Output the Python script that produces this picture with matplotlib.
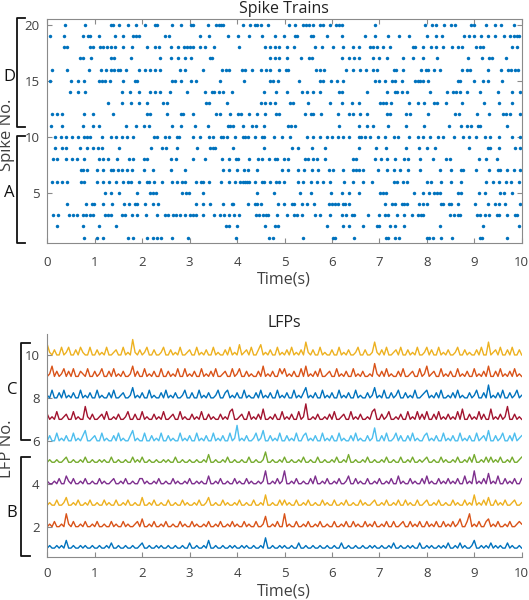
import numpy as np
import matplotlib
matplotlib.use('Agg')
import matplotlib.pyplot as plt
from matplotlib.lines import Line2D

plt.rcParams['font.family'] = ['Open Sans', 'DejaVu Sans']

# spike times (s) for each spike train
spk01 = [0.78, 1.04, 1.18, 1.71, 1.80, 2.10, 2.22, 2.32, 2.39, 2.62, 2.97, 3.98, 4.68, 4.75, 5.38, 6.03, 6.07, 6.47,
         7.14, 7.19, 7.33, 7.42, 8.00, 8.05, 8.13, 8.29, 8.53, 9.12, 9.17, 9.70]
spk02 = [0.20, 0.76, 1.08, 1.45, 3.77, 3.84, 3.99, 4.59, 4.79, 4.87, 5.89, 6.24, 6.35, 6.66, 6.96, 7.00, 7.23, 7.33,
         7.51, 8.27, 9.18, 9.95]
spk03 = [0.11, 0.23, 0.46, 0.55, 0.62, 0.75, 0.82, 0.90, 0.96, 1.22, 1.29, 1.34, 1.57, 1.64, 1.78, 1.90, 2.08, 2.32,
         2.48, 2.55, 2.64, 2.71, 2.80, 2.90, 3.01, 3.08, 3.14, 3.29, 3.52, 3.63, 3.73, 3.84, 3.94, 4.05, 4.40, 4.47,
         4.54, 4.61, 4.65, 4.84, 5.05, 5.20, 5.27, 5.36, 5.64, 5.74, 5.96, 6.21, 6.30, 6.42, 6.47, 6.75, 7.00, 7.12,
         7.19, 7.37, 7.52, 7.68, 7.82, 7.87, 7.93, 8.49, 8.58, 8.65, 8.69, 9.05, 9.12, 9.23, 9.32, 9.47, 9.53, 9.69,
         9.86, 9.91]
spk04 = [0.42, 0.82, 0.94, 0.99, 1.18, 1.36, 1.62, 1.73, 1.85, 1.90, 2.06, 2.22, 2.34, 3.14, 3.29, 3.43, 3.70, 3.89,
         3.92, 4.24, 4.37, 4.41, 4.50, 4.87, 4.99, 5.15, 5.20, 5.36, 5.47, 5.62, 5.93, 6.00, 6.07, 6.12, 6.23, 6.28,
         6.37, 7.12, 7.26, 7.33, 7.47, 7.52, 7.59, 7.84, 7.91, 8.01, 8.29, 8.35, 8.46, 8.51, 8.65, 9.02, 9.28, 9.44,
         9.53, 9.65, 9.97]
spk05 = [1.22, 1.34, 1.51, 1.90, 2.17, 2.22, 2.29, 2.83, 2.92, 2.99, 3.28, 4.41, 4.78, 5.33, 5.56, 5.97, 6.21, 6.35,
         6.57, 7.01, 7.07, 7.14, 7.72, 7.91, 8.05, 8.16, 8.21, 8.27, 8.65, 8.72, 9.11, 9.23, 9.54, 9.63, 9.79]
spk06 = [0.09, 0.21, 0.30, 0.41, 0.70, 0.77, 1.04, 1.17, 1.31, 1.45, 1.59, 1.71, 1.76, 1.94, 2.10, 2.15, 2.24, 2.41,
         2.62, 2.73, 2.83, 2.90, 3.14, 3.23, 3.28, 3.40, 3.66, 3.84, 3.96, 4.06, 4.12, 4.17, 4.22, 4.26, 4.38, 4.52,
         4.57, 4.70, 4.82, 4.89, 4.99, 5.29, 5.40, 5.55, 5.68, 5.81, 5.95, 6.26, 6.45, 6.66, 6.84, 7.30, 7.37, 7.49,
         7.58, 8.01, 8.08, 8.29, 8.51, 8.72, 9.25, 9.39, 9.53, 9.67, 9.77, 9.95]
spk07 = [0.70, 0.76, 0.83, 1.04, 1.18, 1.34, 1.39, 1.48, 1.57, 1.67, 1.78, 2.03, 2.22, 2.61, 2.90, 3.71, 3.83, 3.99,
         4.15, 4.24, 4.43, 4.94, 5.08, 5.29, 5.41, 5.57, 5.71, 5.93, 6.03, 6.24, 6.44, 6.51, 6.56, 6.66, 6.97, 7.16,
         7.30, 7.44, 7.61, 7.86, 8.27, 8.51, 8.72, 8.77, 9.04, 9.32, 9.49, 9.54, 9.70, 9.83, 9.97]
spk08 = [0.13, 0.21, 0.39, 0.53, 0.62, 0.77, 1.08, 1.18, 1.27, 1.46, 1.73, 1.80, 2.03, 2.10, 2.61, 2.71, 3.07, 3.33,
         3.68, 3.84, 3.98, 4.03, 4.26, 4.45, 4.52, 4.68, 4.80, 4.85, 4.98, 5.08, 5.43, 5.50, 5.61, 5.69, 5.86, 6.44,
         6.51, 6.91, 7.03, 7.16, 7.33, 7.51, 7.61, 7.86, 8.14, 8.40, 8.48, 9.11, 9.25, 9.47]
spk09 = [0.16, 0.30, 0.39, 0.68, 0.83, 0.96, 1.06, 1.16, 1.52, 2.19, 2.41, 2.50, 2.73, 3.15, 3.43, 3.49, 3.54, 3.91,
         4.57, 5.15, 5.29, 5.57, 5.86, 6.58, 6.93, 7.14, 7.56, 7.84, 8.00, 8.18, 8.88, 9.28, 9.33, 9.52, 9.86, 9.97]
spk10 = [0.16, 0.28, 0.39, 0.53, 0.64, 0.78, 0.83, 0.89, 1.15, 1.34, 1.45, 1.57, 1.69, 1.81, 2.25, 2.32, 2.48, 2.57,
         2.73, 2.78, 3.07, 3.21, 3.40, 3.49, 3.66, 3.71, 3.78, 3.96, 4.12, 4.17, 4.24, 4.38, 4.52, 4.57, 4.78, 4.94,
         5.12, 5.47, 5.61, 5.74, 5.89, 6.00, 6.12, 6.24, 6.35, 6.56, 6.61, 6.70, 6.80, 6.97, 7.12, 7.30, 7.40, 7.63,
         7.82, 7.93, 8.07, 8.24, 8.34, 8.58, 8.77, 8.89, 9.04, 9.23, 9.33, 9.53, 9.79, 9.97]
spk11 = [0.07, 0.30, 0.76, 0.96, 1.10, 1.66, 1.86, 2.03, 2.15, 2.62, 2.81, 3.11, 3.38, 3.80, 3.85, 3.91, 4.12, 4.31,
         4.40, 4.56, 5.08, 5.14, 5.22, 6.14, 6.56, 6.73, 6.87, 7.19, 7.56, 7.94, 8.46, 8.72, 8.84, 8.93, 9.07, 9.12,
         9.70]
spk12 = [0.09, 0.21, 0.30, 0.78, 0.96, 1.38, 2.11, 2.17, 2.52, 2.81, 2.87, 3.08, 3.56, 3.63, 3.85, 4.03, 4.08, 4.26,
         4.41, 4.59, 4.82, 4.89, 5.43, 5.55, 5.60, 5.76, 6.12, 6.36, 6.44, 6.59, 6.73, 7.16, 7.23, 7.56, 7.65, 8.02,
         8.60, 8.67, 9.05, 9.32, 9.60, 9.67, 9.76, 9.97]
spk13 = [1.29, 1.57, 1.77, 1.93, 2.10, 2.43, 2.52, 3.35, 3.40, 3.78, 4.51, 4.59, 4.70, 4.80, 5.12, 5.17, 5.50, 5.96,
         6.21, 6.42, 6.57, 7.01, 7.07, 7.14, 7.25, 7.63, 7.82, 7.94, 8.16, 8.21, 8.40, 8.75, 9.21, 9.53, 9.79]
spk14 = [0.48, 0.65, 0.80, 1.57, 1.74, 1.94, 2.17, 2.27, 2.38, 2.59, 2.94, 3.33, 3.47, 3.51, 3.61, 3.70, 3.89, 4.56,
         4.82, 5.06, 5.36, 5.47, 5.61, 5.75, 6.14, 6.21, 6.73, 7.17, 7.33, 7.38, 7.47, 7.58, 8.07, 8.42, 8.56, 8.62,
         8.69, 8.84, 9.12, 9.49, 9.79, 9.97]
spk15 = [0.06, 0.49, 0.65, 0.78, 1.08, 1.15, 1.22, 1.32, 1.59, 1.84, 1.90, 2.62, 2.69, 2.81, 3.03, 3.13, 3.63, 4.15,
         4.70, 4.75, 4.86, 5.31, 5.75, 5.81, 5.98, 6.10, 6.24, 6.90, 7.00, 7.12, 7.26, 7.33, 7.47, 7.75, 7.81, 7.86,
         7.91, 8.02, 8.65, 8.70, 9.00, 9.19, 9.30, 9.58]
spk16 = [0.09, 0.41, 0.87, 1.13, 1.23, 1.34, 1.41, 1.48, 1.53, 1.66, 1.94, 2.06, 2.17, 2.27, 2.38, 2.80, 2.90, 3.28,
         3.68, 3.77, 3.82, 4.10, 4.17, 4.31, 4.51, 4.61, 4.70, 4.89, 5.03, 5.08, 5.67, 5.75, 5.84, 6.29, 6.44, 6.59,
         6.72, 6.86, 6.96, 7.30, 7.35, 7.49, 7.88, 7.98, 8.03, 8.16, 8.28, 8.74, 8.84, 8.91, 9.28, 9.56, 9.72, 9.78,
         9.86, 9.93]
spk17 = [0.69, 0.75, 0.92, 1.34, 1.41, 1.77, 2.38, 2.61, 2.76, 2.90, 3.03, 3.42, 3.48, 4.70, 4.80, 4.89, 5.06, 5.35,
         5.52, 5.57, 6.21, 6.35, 6.47, 6.58, 6.86, 7.00, 7.17, 7.49, 7.70, 7.91, 8.22, 8.86, 9.16, 9.32, 9.37, 9.67]
spk18 = [0.35, 0.42, 0.89, 0.97, 1.11, 1.18, 1.25, 1.34, 1.43, 1.60, 1.78, 2.10, 2.27, 2.36, 2.61, 2.76, 2.89, 2.94,
         3.01, 3.08, 3.21, 3.33, 3.52, 4.05, 4.59, 4.70, 4.80, 4.89, 5.06, 5.19, 5.64, 5.78, 6.02, 6.24, 6.44, 6.58,
         6.80, 6.87, 6.94, 7.07, 7.23, 7.70, 7.75, 7.91, 8.09, 8.20, 8.35, 8.54, 8.65, 8.74, 9.04, 9.12, 9.18, 9.79,
         9.91]
spk19 = [0.06, 0.36, 0.76, 0.85, 0.90, 1.08, 1.43, 1.60, 1.80, 1.87, 1.93, 2.48, 2.57, 3.22, 3.40, 3.80, 4.03, 4.25,
         4.53, 4.79, 4.99, 5.22, 5.27, 5.56, 5.61, 5.89, 6.21, 6.70, 6.91, 7.19, 7.42, 7.63, 8.00, 8.20, 8.33, 8.79,
         8.89, 9.00, 9.14, 9.28, 9.44, 9.63, 9.76, 9.83, 9.90, 9.95]
spk20 = [0.37, 0.80, 1.34, 1.39, 1.51, 1.71, 1.88, 2.05, 2.26, 2.31, 2.62, 2.81, 3.03, 3.08, 3.38, 3.55, 3.61, 3.66,
         3.71, 4.13, 4.27, 4.37, 4.43, 4.51, 4.66, 5.10, 5.22, 5.40, 5.45, 5.52, 5.61, 5.75, 5.81, 5.96, 6.09, 6.15,
         6.21, 6.91, 7.96, 8.10, 8.20, 8.37, 8.50, 8.60, 8.93, 9.00, 9.25, 9.43, 9.56, 9.83]

# LFP traces, sampled every 0.05 s, height above baseline (arbitrary steps)
lfp_dt = 0.05
lfp_step = 0.12
lfp01 = [1,2,1,1,2,1,2,1,4,1, 1,2,1,1,2,1,2,1,1,2, 1,1,2,1,1,2,1,3,1,1, 2,1,1,2,1,1,2,1,1,2,
         3,1,1,2,1,1,2,1,2,1, 1,2,1,1,2,1,1,2,1,1, 3,1,1,2,1,1,2,1,4,1, 1,2,1,1,2,1,1,2,1,2,
         1,1,2,1,2,1,1,2,1,1, 2,1,5,1,1,2,1,1,2,1, 2,1,1,2,1,1,3,1,1,2, 1,1,2,1,1,2,1,1,2,1,
         1,2,1,1,3,1,1,2,1,1, 2,1,1,2,1,1,2,1,2,1, 1,2,1,1,2,1,3,1,1,2, 1,1,2,1,2,1,1,3,1,1,
         2,1,2,1,1,2,1,2,1,3, 1,1,2,1,3,1,2,1,1,2, 4,1,1,2,1,2,1,3,1,2, 1,2,1,1,3,1,2,1,1,2, 1]
lfp02 = [1,2,1,3,1,1,2,1,6,2, 1,3,1,1,2,1,3,1,1,2, 1,3,1,1,2,1,1,3,1,2, 1,1,3,1,2,1,1,2,3,1,
         4,1,1,2,1,3,1,1,2,1, 3,1,1,2,1,1,3,1,2,1, 1,3,1,2,1,1,2,1,3,1, 1,2,1,3,1,1,2,1,3,1,
         2,1,1,3,1,2,1,1,3,1, 1,2,5,1,1,2,1,3,1,1, 6,1,2,1,1,3,1,1,2,1, 3,1,1,2,1,3,1,1,2,1,
         1,3,1,1,2,1,3,1,1,3, 1,2,1,1,3,1,2,1,3,1, 1,2,1,3,1,1,3,1,1,2, 3,1,1,3,1,2,1,3,1,1,
         3,1,2,1,3,1,1,3,1,2, 1,3,1,2,4,1,1,3,6,1, 2,1,3,1,1,3,4,1,2,1, 3,1,1,2,1,3,1,1,2,3, 2]
lfp03 = [1,2,1,1,3,1,1,2,4,1, 1,2,1,3,1,1,2,1,3,1, 1,2,1,1,3,1,2,1,1,3, 1,1,2,1,3,1,1,2,1,1,
         4,1,1,2,1,3,1,1,2,1, 1,3,1,1,2,1,1,3,1,2, 1,1,2,1,3,1,1,2,4,1, 1,2,1,1,3,1,2,1,1,2,
         1,3,1,1,2,1,1,3,1,1, 2,1,5,1,1,2,1,1,3,1, 3,1,2,1,1,3,1,1,2,1, 3,1,1,2,1,1,3,1,2,1,
         1,3,1,1,2,1,3,1,1,2, 1,1,3,1,2,1,1,2,3,1, 1,2,1,3,1,1,2,1,3,1, 1,3,1,2,1,1,3,1,1,2,
         3,1,1,2,1,3,1,1,2,1, 1,3,1,2,1,1,3,1,2,1, 5,1,2,1,3,1,4,1,1,3, 1,2,1,3,1,1,2,3,1,1, 2]
lfp04 = [2,1,1,2,1,3,1,1,4,2, 1,3,1,1,2,1,3,1,1,2, 1,1,3,1,2,1,1,2,3,1, 1,2,1,3,1,1,2,1,1,3,
         3,1,2,1,1,2,1,3,1,1, 2,1,1,3,1,2,1,1,2,1, 3,1,1,2,1,2,1,1,4,1, 1,2,1,3,1,1,2,1,1,3,
         1,2,1,1,3,1,2,1,1,2, 1,2,6,1,1,2,1,3,1,2, 6,1,1,2,1,3,1,1,2,1, 1,3,1,4,1,1,2,1,3,1,
         1,2,1,3,1,1,2,4,1,1, 3,1,2,1,1,3,1,1,2,1, 3,1,1,2,1,3,1,1,4,1, 2,1,1,3,1,2,1,1,3,1,
         4,1,2,1,1,3,1,2,1,3, 1,2,1,3,1,1,4,1,2,1, 6,1,2,1,3,1,5,1,2,1, 4,1,1,3,1,2,1,3,1,1, 3]
lfp05 = [1,2,1,1,2,1,1,2,3,1, 1,2,1,1,2,1,3,1,1,2, 1,1,2,1,2,1,1,3,1,1, 2,1,1,2,1,1,3,1,2,1,
         3,1,1,2,1,1,2,1,1,2, 1,2,1,1,3,1,1,2,1,1, 2,1,1,2,1,1,2,1,4,1, 1,2,1,1,2,1,3,1,1,2,
         1,1,2,1,1,3,1,1,2,1, 1,2,5,1,1,2,1,1,2,1, 3,1,1,2,1,1,2,1,3,1, 1,2,1,1,3,1,1,2,1,1,
         2,1,3,1,1,2,1,4,1,1, 2,1,1,2,1,3,1,1,2,1, 1,2,1,3,1,1,2,1,1,3, 1,1,2,1,3,1,1,2,1,2,
         3,1,1,2,1,1,3,1,2,1, 1,2,1,3,1,1,2,1,3,1, 4,1,1,2,1,3,1,3,1,2, 1,3,1,1,2,1,3,1,1,2, 3]
lfp06 = [1,3,1,1,4,1,2,1,3,1, 1,4,1,2,1,3,5,1,1,2, 3,1,1,4,1,2,1,1,3,1, 4,1,2,1,1,3,5,1,2,1,
         1,4,1,1,3,1,2,1,4,1, 1,3,1,2,1,1,4,1,2,1, 3,1,1,4,1,2,1,3,1,1, 4,1,2,1,3,1,1,4,1,2,
         7,1,2,1,3,1,1,2,4,1, 2,5,1,1,3,1,2,1,4,1, 1,3,1,2,1,4,1,1,3,4, 1,2,1,3,1,1,4,1,2,1,
         3,1,1,4,1,2,1,1,3,1, 4,1,2,1,1,3,1,2,6,1, 1,3,1,4,1,1,2,4,1,3, 1,1,3,1,4,1,2,1,1,3,
         4,1,2,1,3,1,1,4,1,2, 1,3,1,1,4,1,2,1,3,1, 1,4,1,2,3,1,5,1,1,3, 1,2,4,1,1,3,1,4,1,2, 3]
lfp07 = [3,1,2,1,4,1,1,2,3,1, 1,4,1,2,1,1,6,2,1,3, 1,1,2,3,1,4,1,1,2,1, 3,1,1,2,4,1,1,3,1,1,
         4,1,2,1,1,3,1,2,1,4, 1,1,2,3,1,1,4,1,2,1, 1,3,1,2,1,4,1,1,3,1, 2,1,1,3,1,2,1,4,5,1,
         1,2,3,1,1,4,1,2,1,3, 1,5,1,1,2,1,3,1,1,4, 1,2,1,3,1,1,4,1,2,7, 1,1,2,1,3,1,1,2,1,3,
         1,4,1,1,2,3,1,1,4,1, 2,1,3,1,1,2,1,4,5,1, 1,3,1,2,4,1,1,2,1,3, 1,1,4,1,2,1,4,1,3,1,
         4,1,1,3,1,4,1,2,1,3, 1,2,1,4,1,5,1,1,3,1, 2,1,4,1,3,1,1,5,1,2, 1,3,1,2,6,1,1,3,1,2, 1]
lfp08 = [2,1,4,1,1,3,1,4,1,2, 1,3,1,1,4,1,2,1,3,1, 1,4,1,2,1,1,3,1,4,1, 1,2,3,1,1,2,5,1,2,1,
         3,1,1,4,1,2,1,1,3,1, 4,1,2,1,3,1,1,2,4,1, 1,3,1,1,4,1,2,1,3,1, 1,2,4,1,1,3,4,1,2,1,
         3,1,1,4,1,2,1,1,3,1, 4,1,2,1,3,1,1,4,1,2, 1,3,1,1,4,1,2,1,3,5, 1,2,1,3,1,1,4,1,2,1,
         3,1,1,4,1,2,1,3,1,1, 4,1,2,1,1,3,1,2,5,1, 2,1,4,1,1,3,1,2,4,1, 1,3,1,2,1,4,1,1,2,3,
         4,1,2,1,3,1,4,1,1,2, 1,3,1,4,1,2,1,1,3,1, 2,4,1,1,3,1,6,1,2,1, 3,1,4,1,1,3,1,2,4,1, 2]
lfp09 = [1,2,5,1,3,1,2,4,1,3, 1,4,1,1,3,2,1,4,1,1, 3,1,2,4,1,1,3,1,4,1, 2,1,3,1,1,2,5,1,3,1,
         1,4,1,2,1,3,1,1,4,1, 1,3,1,2,1,4,1,1,4,1, 2,1,3,1,1,4,1,2,1,3, 1,4,1,1,2,3,1,1,4,1,
         2,4,1,1,3,1,2,1,1,3, 1,5,1,2,1,3,1,1,4,2, 4,1,2,1,3,1,1,4,1,5, 1,2,1,3,1,4,1,1,2,3,
         1,1,4,1,2,1,3,1,1,4, 1,2,1,3,1,1,2,1,6,2, 1,3,1,4,1,2,1,1,3,1, 4,1,1,2,3,1,1,4,1,2,
         5,1,2,3,1,1,4,1,2,1, 3,1,1,4,1,2,1,3,1,1, 4,1,2,1,3,1,5,1,1,3, 1,4,1,2,1,3,1,4,1,2, 1]
lfp10 = [5,2,1,3,1,1,4,1,2,4, 1,1,3,1,4,2,1,1,4,1, 1,3,1,2,1,4,1,1,2,3, 1,1,4,1,2,1,7,2,1,3,
         1,2,4,1,1,3,1,1,2,4, 1,1,3,1,2,1,4,1,1,2, 3,1,1,4,1,2,1,3,1,1, 4,1,2,1,1,3,1,4,1,2,
         1,5,1,2,3,1,4,1,1,3, 5,1,2,1,3,1,1,4,1,2, 1,3,1,4,1,2,1,3,1,6, 2,1,3,1,1,4,1,2,1,1,
         3,1,1,4,1,2,1,3,1,1, 2,4,1,1,3,1,1,2,6,2, 1,3,1,4,1,1,2,3,1,4, 1,1,3,1,2,1,4,1,1,2,
         4,1,3,1,1,4,1,2,1,3, 1,1,2,4,1,1,3,1,2,1, 1,3,1,4,1,1,6,1,2,3, 1,4,1,1,3,1,4,1,1,3, 1]

spike_rows = [spk01, spk02, spk03, spk04, spk05, spk06, spk07, spk08, spk09, spk10,
              spk11, spk12, spk13, spk14, spk15, spk16, spk17, spk18, spk19, spk20]
lfp_rows = [lfp01, lfp02, lfp03, lfp04, lfp05, lfp06, lfp07, lfp08, lfp09, lfp10]
lfp_colors = ['#0072BD', '#D95319', '#EDB120', '#7E2F8E', '#77AC30',
              '#4DBEEE', '#A2142F', '#0072BD', '#D95319', '#EDB120']

W, H = 529, 600
fig = plt.figure(figsize=(W / 100, H / 100), dpi=100)

def fx(px):
    return px / W

def fy(py):
    return 1 - py / H

spine_col = '#8a8a8a'
lab_col = '#404040'

# --- spike raster
ax1 = fig.add_axes([fx(47.3), fy(243.3), 474.4 / W, 224 / H])
for i, row in enumerate(spike_rows):
    ax1.plot(row, np.full(len(row), i + 1), 'o', ms=2.5, mec='none', color='#0072BD')
ax1.set_xlim(0, 10)
ax1.set_ylim(0.5, 20.5)
ax1.set_xticks(range(11))
ax1.set_yticks([5, 10, 15, 20])
ax1.tick_params(direction='in', length=3.5, width=0.8, color=spine_col, labelcolor=lab_col,
                labelsize=9.5, top=True, right=True)
ax1.tick_params(axis='x', pad=9.5)
ax1.tick_params(axis='y', pad=5.5)
for s in ax1.spines.values():
    s.set_color(spine_col)
    s.set_linewidth(0.8)

# --- LFP traces
ax2 = fig.add_axes([fx(47.3), fy(556.7), 474.4 / W, 223.2 / H])
for k, tr in enumerate(lfp_rows):
    tr = np.array(tr, dtype=float)
    t = np.arange(len(tr)) * lfp_dt
    ax2.plot(t, k + 1 + (tr - 1) * lfp_step, color=lfp_colors[k], lw=1.0)
ax2.set_xlim(0, 10)
ax2.set_ylim(0.6, 11)
ax2.set_xticks(range(11))
ax2.set_yticks([2, 4, 6, 8, 10])
ax2.tick_params(direction='in', length=3.5, width=0.8, color=spine_col, labelcolor=lab_col,
                labelsize=9.5)
ax2.tick_params(axis='x', pad=7.5)
ax2.tick_params(axis='y', pad=5.5)
ax2.spines['top'].set_visible(False)
ax2.spines['right'].set_visible(False)
for s in ax2.spines.values():
    s.set_color(spine_col)
    s.set_linewidth(0.8)

# --- titles and labels
fig.text(fx(284), fy(9), 'Spike Trains', ha='center', va='center', fontsize=11.5, color='#222222')
fig.text(fx(284), fy(279), 'Time(s)', ha='center', va='center', fontsize=11.5, color=lab_col)
fig.text(fx(284), fy(323), 'LFPs', ha='center', va='center', fontsize=11.5, color='#222222')
fig.text(fx(284), fy(591), 'Time(s)', ha='center', va='center', fontsize=11.5, color=lab_col)
fig.text(fx(7), fy(135), 'Spike No.', ha='center', va='center', rotation=90, fontsize=12, color=lab_col)
fig.text(fx(7), fy(449), 'LFP No.', ha='center', va='center', rotation=90, fontsize=12, color=lab_col)

# group brackets
def bracket(x, y0, y1, x_end):
    fig.add_artist(Line2D([fx(x_end), fx(x), fx(x), fx(x_end)], [fy(y0), fy(y0), fy(y1), fy(y1)],
                          color='#111111', lw=1.3))

bracket(17, 18, 127, 25)
bracket(17, 136, 243, 25)
bracket(21, 343, 440, 30)
bracket(21, 457, 556, 30)
fig.text(fx(9), fy(77), 'D', ha='center', va='center', fontsize=12, color='#111111')
fig.text(fx(9), fy(193), 'A', ha='center', va='center', fontsize=12, color='#111111')
fig.text(fx(12), fy(390), 'C', ha='center', va='center', fontsize=12, color='#111111')
fig.text(fx(12), fy(513), 'B', ha='center', va='center', fontsize=12, color='#111111')

fig.savefig('out.png', dpi=100)
